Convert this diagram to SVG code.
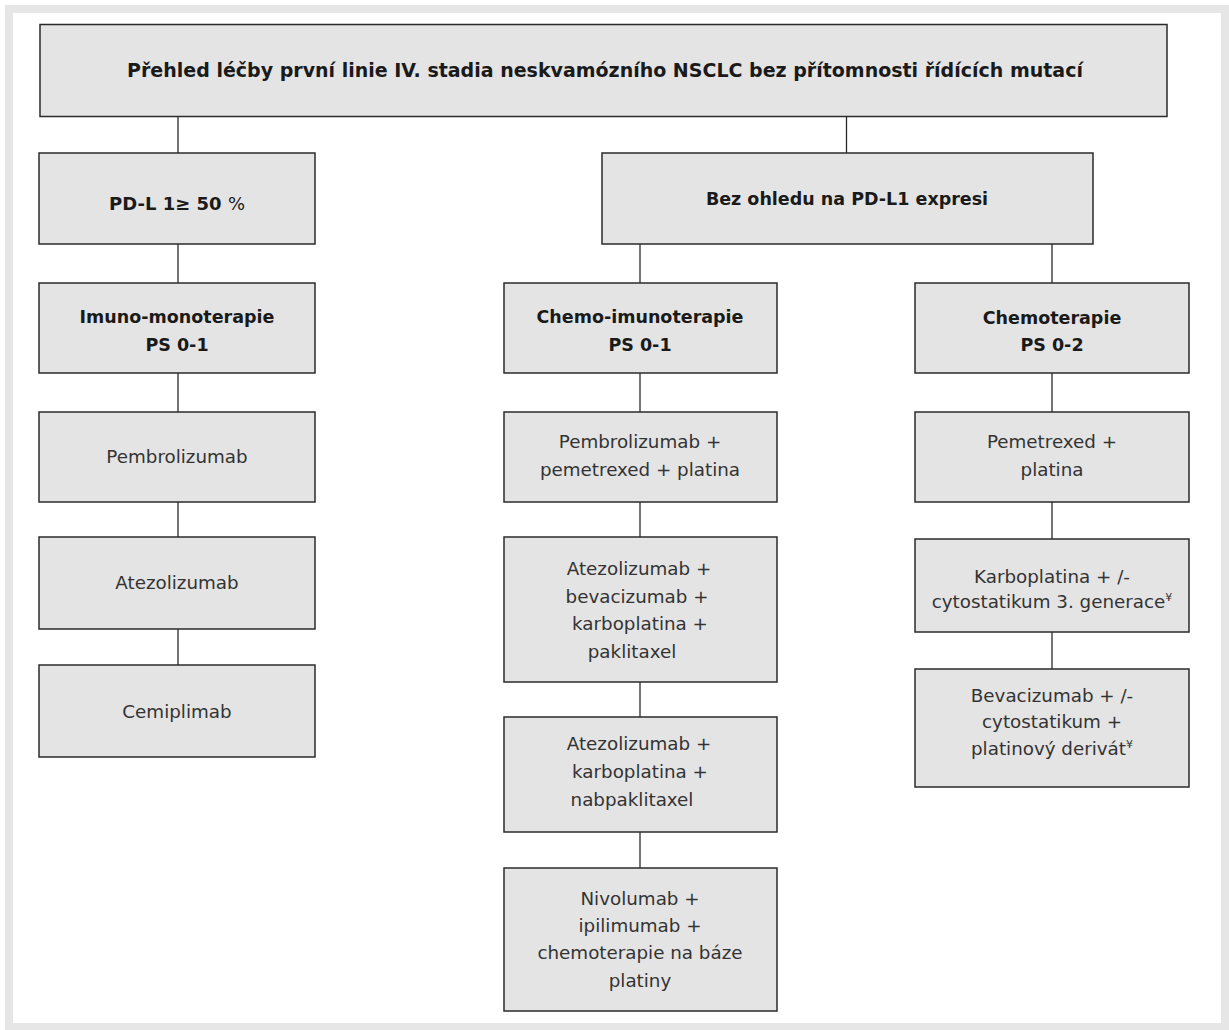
<svg xmlns="http://www.w3.org/2000/svg" width="1229" height="1030" viewBox="0 0 1229 1030">
<style>
.box{fill:#e4e4e4;stroke:#2b2b2b;stroke-width:1.5}
.t{font-family:"DejaVu Sans","Liberation Sans",sans-serif;font-size:18.3px;fill:#333;text-anchor:middle}
.b{font-family:"DejaVu Sans","Liberation Sans",sans-serif;font-size:17.5px;font-weight:bold;fill:#1a1a1a;text-anchor:middle}
.sup{font-size:11px}
#connectors line{stroke:#2b2b2b;stroke-width:1.3}
</style>
<rect x="0" y="0" width="1229" height="1030" fill="#fff"/>
<rect x="5" y="5" width="1224" height="1025" fill="#e6e6e6"/>
<rect x="13" y="13" width="1208" height="1010" fill="#fff"/>
<g id="connectors">
<line x1="178" y1="117" x2="178" y2="153"/>
<line x1="846.5" y1="117" x2="846.5" y2="153"/>
<line x1="178" y1="244" x2="178" y2="283"/>
<line x1="640" y1="244" x2="640" y2="283"/>
<line x1="1052" y1="244" x2="1052" y2="283"/>
<line x1="178" y1="373" x2="178" y2="412"/>
<line x1="178" y1="502" x2="178" y2="537"/>
<line x1="178" y1="629" x2="178" y2="665"/>
<line x1="640" y1="373" x2="640" y2="412"/>
<line x1="640" y1="502" x2="640" y2="537"/>
<line x1="640" y1="682" x2="640" y2="717"/>
<line x1="640" y1="832" x2="640" y2="868"/>
<line x1="1052" y1="373" x2="1052" y2="412"/>
<line x1="1052" y1="502" x2="1052" y2="539"/>
<line x1="1052" y1="632" x2="1052" y2="669"/>
</g>
<g id="title"><rect class="box" x="40" y="24.5" width="1127" height="92"/>
<text class="b" x="605" y="77" style="font-size:19px">Přehled léčby první linie IV. stadia neskvamózního NSCLC bez přítomnosti řídících mutací</text></g>
<g id="pdl1"><rect class="box" x="39" y="153" width="276" height="91"/>
<text class="b" x="177" y="210" style="font-size:18px">PD-L 1≥ 50 <tspan font-weight="normal">%</tspan></text></g>
<g id="bez"><rect class="box" x="602" y="153" width="491" height="91"/>
<text class="b" x="847" y="205">Bez ohledu na PD-L1 expresi</text></g>
<g id="imuno"><rect class="box" x="39" y="283" width="276" height="90"/>
<text class="b" x="177" y="323">Imuno-monoterapie</text><text class="b" x="177" y="351">PS 0-1</text></g>
<g id="chemoimuno"><rect class="box" x="504" y="283" width="273" height="90"/>
<text class="b" x="640" y="323">Chemo-imunoterapie</text><text class="b" x="640" y="351">PS 0-1</text></g>
<g id="chemo"><rect class="box" x="915" y="283" width="274" height="90"/>
<text class="b" x="1052" y="324">Chemoterapie</text><text class="b" x="1052" y="351">PS 0-2</text></g>
<g id="pembro"><rect class="box" x="39" y="412" width="276" height="90"/>
<text class="t" x="177" y="463">Pembrolizumab</text></g>
<g id="atezo"><rect class="box" x="39" y="537" width="276" height="92"/>
<text class="t" x="177" y="589">Atezolizumab</text></g>
<g id="cemi"><rect class="box" x="39" y="665" width="276" height="92"/>
<text class="t" x="177" y="718">Cemiplimab</text></g>
<g id="pembrocombo"><rect class="box" x="504" y="412" width="273" height="90"/>
<text class="t" x="640" y="448">Pembrolizumab +</text><text class="t" x="640" y="476">pemetrexed + platina</text></g>
<g id="atezobev"><rect class="box" x="504" y="537" width="273" height="145"/>
<text class="t" x="639" y="575">Atezolizumab +</text><text class="t" x="637" y="602.5">bevacizumab +</text><text class="t" x="640" y="630">karboplatina +</text><text class="t" x="632" y="657.5">paklitaxel</text></g>
<g id="atezokarbo"><rect class="box" x="504" y="717" width="273" height="115"/>
<text class="t" x="639" y="750">Atezolizumab +</text><text class="t" x="640" y="778">karboplatina +</text><text class="t" x="632" y="805.5">nabpaklitaxel</text></g>
<g id="nivo"><rect class="box" x="504" y="868" width="273" height="143"/>
<text class="t" x="640" y="905">Nivolumab +</text><text class="t" x="640" y="932">ipilimumab +</text><text class="t" x="640" y="959">chemoterapie na báze</text><text class="t" x="640" y="987">platiny</text></g>
<g id="pemetrexed"><rect class="box" x="915" y="412" width="274" height="90"/>
<text class="t" x="1052" y="448">Pemetrexed +</text><text class="t" x="1052" y="476">platina</text></g>
<g id="karbo"><rect class="box" x="915" y="539" width="274" height="93"/>
<text class="t" x="1052" y="583">Karboplatina + /-</text><text class="t" x="1052" y="608">cytostatikum 3. generace<tspan class="sup" dy="-7">¥</tspan></text></g>
<g id="beva"><rect class="box" x="915" y="669" width="274" height="118"/>
<text class="t" x="1052" y="702">Bevacizumab + /-</text><text class="t" x="1052" y="728">cytostatikum +</text><text class="t" x="1052" y="755">platinový derivát<tspan class="sup" dy="-7">¥</tspan></text></g>
</svg>
